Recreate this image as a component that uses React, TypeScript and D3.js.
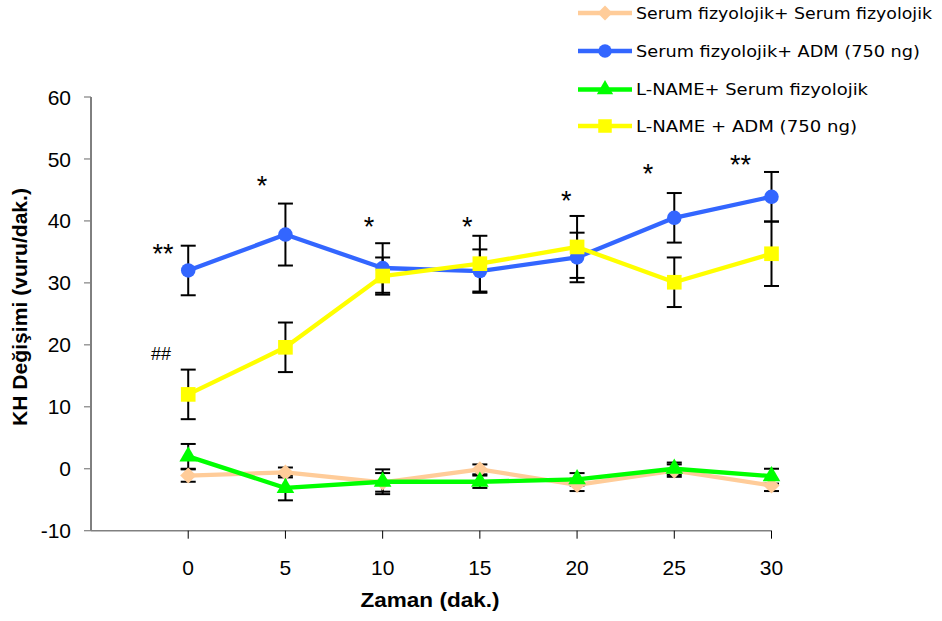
import React, { useEffect, useRef } from 'react';
import * as d3 from 'd3';

// time points (dak.)
const times = [0, 5, 10, 15, 20, 25, 30];
const yTicks = [-10, 0, 10, 20, 30, 40, 50, 60];

// series means and error values
const serumSerum = [-1.1, -0.6, -2.2, -0.1, -2.6, -0.3, -2.7];
const serumSerumErr = [1.0, 0.8, 1.5, 0.8, 1.0, 1.0, 0.9];
const serumAdm = [32, 37.8, 32.4, 31.9, 34.1, 40.5, 43.9];
const serumAdmErr = [4, 5, 4, 3.5, 4, 4, 4];
const lnameSerum = [2, -3.1, -2.1, -2.1, -1.7, 0, -1.2];
const lnameSerumErr = [2, 2, 2, 1, 1, 1, 1.2];
const lnameAdm = [12, 19.6, 31.1, 33.1, 35.8, 30.1, 34.7];
const lnameAdmErr = [4, 4, 3, 4.5, 5, 4, 5.2];

const seriesNames = [
  'Serum fizyolojik+ Serum fizyolojik',
  'Serum fizyolojik+ ADM (750 ng)',
  'L-NAME+ Serum fizyolojik',
  'L-NAME + ADM (750 ng)',
];

// significance marks: label, x (time), y (value)
const markLabels = ['**', '*', '*', '*', '*', '*', '**', '##'];
const markX = [-1.3, 3.8, 9.3, 14.35, 19.45, 23.65, 28.4, -1.4];
const markY = [35.7, 46.7, 40, 40, 44.3, 48.7, 50.1, 18.6];

const font = 'Liberation Sans, Arial, sans-serif';

const App = () => {
  const ref = useRef<SVGSVGElement>(null);

  useEffect(() => {
    const svg = d3.select(ref.current);
    svg.selectAll('*').remove();

    const x = d3.scaleLinear([-5, 30], [91, 771.5]);
    const y = d3.scaleLinear([-10, 60], [530.7, 97]);

    const series = [
      { name: seriesNames[0], values: serumSerum, err: serumSerumErr, color: '#FFCC99', shape: d3.symbolSquare, size: 130, rot: 45 },
      { name: seriesNames[1], values: serumAdm, err: serumAdmErr, color: '#3366FF', shape: d3.symbolCircle, size: 165, rot: 0 },
      { name: seriesNames[2], values: lnameSerum, err: lnameSerumErr, color: '#00FF00', shape: d3.symbolTriangle, size: 135, rot: 0 },
      { name: seriesNames[3], values: lnameAdm, err: lnameAdmErr, color: '#FFFF00', shape: d3.symbolSquare, size: 215, rot: 0 },
    ];

    // y axis
    svg.append('line')
      .attr('x1', 91).attr('x2', 91)
      .attr('y1', y(60)).attr('y2', y(-10))
      .attr('stroke', '#000').attr('stroke-width', 1);
    svg.append('g').selectAll('line')
      .data(yTicks).enter()
      .append('line')
      .attr('x1', 84).attr('x2', 91)
      .attr('y1', d => y(d)).attr('y2', d => y(d))
      .attr('stroke', '#808080').attr('stroke-width', 1.2);
    svg.append('g').selectAll('text')
      .data(yTicks).enter()
      .append('text')
      .attr('x', 71).attr('y', d => y(d))
      .attr('dy', '0.36em')
      .attr('text-anchor', 'end')
      .attr('font-family', font)
      .attr('font-size', 21)
      .text(d => d);

    // x axis
    svg.append('line')
      .attr('x1', 91).attr('x2', x(30))
      .attr('y1', y(-10)).attr('y2', y(-10))
      .attr('stroke', '#808080').attr('stroke-width', 1.5);
    svg.append('g').selectAll('line')
      .data(times).enter()
      .append('line')
      .attr('x1', d => x(d)).attr('x2', d => x(d))
      .attr('y1', y(-10)).attr('y2', y(-10) + 8)
      .attr('stroke', '#000').attr('stroke-width', 1);
    svg.append('g').selectAll('text')
      .data(times).enter()
      .append('text')
      .attr('x', d => x(d)).attr('y', 575)
      .attr('text-anchor', 'middle')
      .attr('font-family', font)
      .attr('font-size', 21)
      .text(d => d);

    // axis titles
    svg.append('text')
      .attr('x', 430).attr('y', 607)
      .attr('text-anchor', 'middle')
      .attr('font-family', font)
      .attr('font-weight', 'bold')
      .attr('font-size', 20)
      .attr('textLength', 139)
      .attr('lengthAdjust', 'spacingAndGlyphs')
      .text('Zaman (dak.)');
    svg.append('text')
      .attr('transform', 'translate(27, 307) rotate(-90)')
      .attr('text-anchor', 'middle')
      .attr('font-family', font)
      .attr('font-weight', 'bold')
      .attr('font-size', 20)
      .attr('textLength', 238)
      .attr('lengthAdjust', 'spacingAndGlyphs')
      .text('KH Değişimi (vuru/dak.)');

    // error bars
    const capW = 7.5;
    series.forEach(s => {
      const g = svg.append('g').attr('stroke', '#000').attr('stroke-width', 2);
      s.values.forEach((v, i) => {
        const cx = x(times[i]);
        const top = y(v + s.err[i]);
        const bot = y(v - s.err[i]);
        g.append('line').attr('x1', cx).attr('x2', cx).attr('y1', top).attr('y2', bot);
        g.append('line').attr('x1', cx - capW).attr('x2', cx + capW).attr('y1', top).attr('y2', top);
        g.append('line').attr('x1', cx - capW).attr('x2', cx + capW).attr('y1', bot).attr('y2', bot);
      });
    });

    // lines and markers
    const line = d3.line<number>()
      .x((d, i) => x(times[i]))
      .y(d => y(d));
    series.forEach(s => {
      svg.append('path')
        .datum(s.values)
        .attr('fill', 'none')
        .attr('stroke', s.color)
        .attr('stroke-width', 4.3)
        .attr('stroke-linejoin', 'round')
        .attr('d', line);
      svg.append('g').selectAll('path')
        .data(s.values).enter()
        .append('path')
        .attr('d', d3.symbol(s.shape, s.size))
        .attr('fill', s.color)
        .attr('transform', (d, i) => `translate(${x(times[i])}, ${y(d)}) rotate(${s.rot})`);
    });

    // significance marks
    svg.append('g').selectAll('text')
      .data(markLabels).enter()
      .append('text')
      .attr('x', (d, i) => x(markX[i]))
      .attr('y', (d, i) => y(markY[i]) + (d === '##' ? 6.5 : 15.5))
      .attr('text-anchor', 'middle')
      .attr('font-family', font)
      .attr('font-size', d => (d === '##' ? 18 : 27))
      .text(d => d);

    // legend
    const legendRows = [13, 51, 89.5, 126];
    const legendWidths = [296, 284, 232, 221];
    series.forEach((s, i) => {
      const g = svg.append('g').attr('transform', `translate(578, ${legendRows[i]})`);
      g.append('line')
        .attr('x1', 0).attr('x2', 54)
        .attr('stroke', s.color).attr('stroke-width', 4.3);
      g.append('path')
        .attr('d', d3.symbol(s.shape, s.size * 0.85))
        .attr('fill', s.color)
        .attr('transform', `translate(27, 0) rotate(${s.rot})`);
      g.append('text')
        .attr('x', 58).attr('y', 0)
        .attr('dy', '0.36em')
        .attr('font-family', 'DejaVu Sans, Verdana, sans-serif')
        .attr('font-size', 16)
        .attr('textLength', legendWidths[i])
        .attr('lengthAdjust', 'spacingAndGlyphs')
        .text(s.name);
    });
  }, []);

  return (
    <svg
      ref={ref}
      width={942}
      height={621}
      style={{ position: 'absolute', left: 0, top: 0, background: '#fff' }}
    />
  );
};

export default App;
